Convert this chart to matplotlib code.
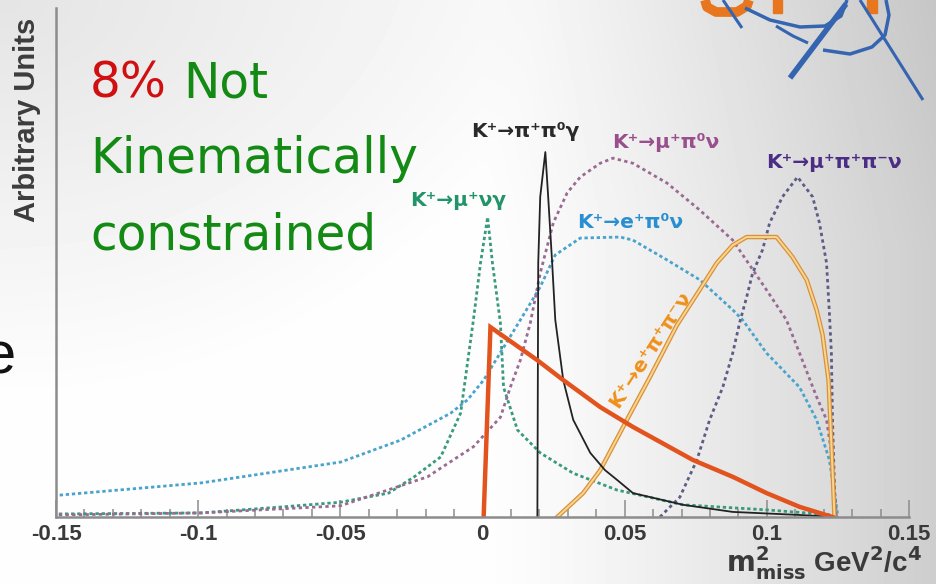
import numpy as np
import matplotlib
matplotlib.use("Agg")
import matplotlib.pyplot as plt
from matplotlib.lines import Line2D
from matplotlib.patches import Rectangle

W, H = 936, 584

# ---------------- data (m2_miss in GeV^2/c^4, arbitrary units) ----------------
mnug_x = [-0.149, -0.099, -0.070, -0.050, -0.033, -0.024, -0.0147, -0.0077, -0.0032,
          -0.0007, 0.0018, 0.0035, 0.0063, 0.0074, 0.0123, 0.0203, 0.0319, 0.0473,
          0.0705, 0.0999, 0.123, 0.1245]
mnug_y = [0.006, 0.008, 0.020, 0.029, 0.047, 0.079, 0.118, 0.204, 0.387,
          0.499, 0.589, 0.499, 0.381, 0.255, 0.171, 0.126, 0.086, 0.053,
          0.024, 0.014, 0.004, 0.0]

epi0nu_x = [-0.1487, -0.0989, -0.0498, -0.0288, -0.0112, -0.0053, 0.0004, 0.0133,
            0.0203, 0.0256, 0.0344, 0.0484, 0.0529, 0.0649, 0.0764, 0.0880, 0.0915,
            0.0999, 0.1115, 0.1175, 0.1220, 0.1245, 0.125]
epi0nu_y = [0.043, 0.067, 0.108, 0.151, 0.204, 0.230, 0.269, 0.387,
            0.452, 0.515, 0.548, 0.550, 0.544, 0.505, 0.466, 0.407, 0.387,
            0.322, 0.255, 0.191, 0.112, 0.020, 0.0]

mupi0nu_x = [-0.149, -0.099, -0.050, -0.0193, -0.0147, -0.0032, 0.0063, 0.0098,
             0.0133, 0.0168, 0.0203, 0.0249, 0.0298, 0.0344, 0.0414, 0.0459, 0.0529,
             0.0649, 0.0764, 0.0880, 0.0999, 0.1069, 0.1115, 0.1175, 0.1210, 0.1231,
             0.1245]
mupi0nu_y = [0.004, 0.008, 0.022, 0.079, 0.096, 0.138, 0.196, 0.255,
             0.308, 0.381, 0.479, 0.578, 0.637, 0.668, 0.695, 0.705, 0.695,
             0.656, 0.603, 0.544, 0.446, 0.387, 0.322, 0.236, 0.191, 0.112,
             0.0]

mupipinu_x = [0.0624, 0.0694, 0.0754, 0.0799, 0.0845, 0.0880, 0.0905, 0.0929, 0.0950,
              0.0985, 0.1010, 0.1055, 0.1108, 0.1161, 0.1185, 0.1210, 0.1220, 0.1227,
              0.1231, 0.1241]
mupipinu_y = [0.0, 0.039, 0.112, 0.191, 0.255, 0.322, 0.383, 0.432, 0.479,
              0.525, 0.578, 0.629, 0.668, 0.629, 0.578, 0.499, 0.401, 0.322,
              0.191, 0.0]

epipinu_x = [0.0263, 0.0354, 0.0414, 0.0508, 0.0589, 0.0684, 0.0775, 0.0824, 0.0880,
             0.0929, 0.1034, 0.1090, 0.1140, 0.1175, 0.1196, 0.1217, 0.1231, 0.1238]
epipinu_y = [0.0, 0.047, 0.092, 0.191, 0.275, 0.377, 0.456, 0.499, 0.534,
             0.550, 0.550, 0.511, 0.466, 0.407, 0.358, 0.269, 0.092, 0.0]

pipigam_x = [0.0193, 0.0196, 0.0203, 0.0221, 0.0231, 0.0245, 0.0256, 0.0284, 0.0319,
             0.0379, 0.0431, 0.0473, 0.0529, 0.0705, 0.0880, 0.1115, 0.1238]
pipigam_y = [0.0, 0.499, 0.629, 0.717, 0.629, 0.499, 0.387, 0.269, 0.191,
             0.126, 0.092, 0.073, 0.047, 0.024, 0.010, 0.004, 0.0]

signal_x = [0.0004, 0.0028, 0.0193, 0.0284, 0.0414, 0.0529, 0.0740, 0.0880, 0.0999,
            0.1115, 0.1231]
signal_y = [0.0, 0.373, 0.308, 0.269, 0.216, 0.177, 0.112, 0.079, 0.047,
            0.020, 0.0]

xticks = [-0.15, -0.1, -0.05, 0, 0.05, 0.1, 0.15]
xticklabels = ["-0.15", "-0.1", "-0.05", "0", "0.05", "0.1", "0.15"]

# ---------------- figure ----------------
fig = plt.figure(figsize=(W / 100, H / 100), dpi=100)

# slide background gradient
bg = fig.add_axes([0, 0, 1, 1], zorder=-10)
yy, xx = np.mgrid[0:H, 0:W].astype(float)
gx = np.clip((xx - 480) / 456, 0, 1)
c = 0.995 - 0.19 * gx ** 1.25
tl = np.clip(1 - np.hypot(xx * 0.9, yy * 1.2) / 480, 0, 1)
c -= 0.10 * tl
c -= 0.03 * np.clip(1 - yy / 250, 0, 1) * np.clip(xx / 936, 0, 1)
bg.imshow(c, cmap="gray", vmin=0, vmax=1, aspect="auto", interpolation="bilinear")
bg.axis("off")

def fx(px):
    return px / W

def fy(py):
    return 1 - py / H

# logo fragments (top right)
for pts, col, lw in [
    ([(705, 0), (707, 7), (716, 12), (737, 12), (747, 6), (749, 0)], "#e8761e", 7),
    ([(723, 0), (742, 28)], "#3565b0", 2.2),
    ([(846, 4), (790, 78)], "#3565b0", 4),
    ([(860, 0), (923, 100)], "#3565b0", 2.2),
    ([(745, 8), (770, 20), (800, 27), (825, 26), (841, 16), (847, 0)], "#3565b0", 2.5),
    ([(776, 26), (793, 36), (808, 43)], "#3565b0", 2.2),
    ([(823, 50), (850, 54), (872, 47), (885, 35), (889, 15), (886, 0)], "#3565b0", 2.5),
]:
    fig.add_artist(Line2D([fx(p[0]) for p in pts], [fy(p[1]) for p in pts],
                          color=col, lw=lw, solid_capstyle="butt",
                          solid_joinstyle="round"))
fig.add_artist(Rectangle((fx(773), fy(13)), 9 / W, 13 / H, color="#e8761e",
                         transform=fig.transFigure))
fig.add_artist(Rectangle((fx(867), fy(13)), 10 / W, 13 / H, color="#e8761e",
                         transform=fig.transFigure))

# slide text fragment at left edge
fig.text(fx(16), fy(373), "e", fontsize=43, family="Liberation Sans",
         ha="right", va="baseline", color="#111111")

# ---------------- axes ----------------
ax = fig.add_axes([fx(56), fy(517), (909 - 56) / W, 509 / H])
ax.patch.set_alpha(0)
ax.set_xlim(-0.15, 0.15)
ax.set_ylim(0, 1)

ax.plot(mnug_x, mnug_y, color="#3a9a7e", lw=2.0, ls=(0, (1.2, 1.0)))
ax.plot(epi0nu_x, epi0nu_y, color="#4aa3cc", lw=2.0, ls=(0, (1.2, 1.0)))
ax.plot(mupi0nu_x, mupi0nu_y, color="#9a6a92", lw=2.0, ls=(0, (1.2, 1.2)))
ax.plot(mupipinu_x, mupipinu_y, color="#5c5c86", lw=2.0, ls=(0, (1.2, 1.2)))
ax.plot(epipinu_x, epipinu_y, color="#d9903a", lw=3.2, solid_joinstyle="round")
ax.plot(epipinu_x, epipinu_y, color="#f9d690", lw=1.4, solid_joinstyle="round")
ax.plot(pipigam_x, pipigam_y, color="#222222", lw=1.3)
ax.plot(signal_x, signal_y, color="#e2531e", lw=3.2, solid_joinstyle="miter")

for s in ["top", "right"]:
    ax.spines[s].set_visible(False)
for s in ["left", "bottom"]:
    ax.spines[s].set_color("#8c8c8c")
    ax.spines[s].set_linewidth(1.8)

ax.set_yticks([])
ax.set_xticks(xticks)
ax.set_xticklabels(xticklabels)
ax.set_xticks(np.arange(-15, 16) / 100, minor=True)
ax.tick_params(axis="x", which="major", direction="in", length=12, width=1.1,
               color="#8c8c8c", pad=5, labelsize=16, labelcolor="#3a3a3a")
ax.tick_params(axis="x", which="minor", direction="in", length=6, width=1.1,
               color="#8c8c8c")
for lab in ax.get_xticklabels():
    lab.set_family("Liberation Sans")
    lab.set_fontweight("bold")

fig.text(fx(27), fy(120), "Arbitrary Units", rotation=90, fontsize=21,
         family="Liberation Sans", fontweight="bold", color="#3c3c3c",
         ha="center", va="center")

fig.text(fx(922), fy(572),
         r"$\mathbf{m^{2}_{miss}}$ GeV$^{\mathbf{2}}$/c$^{\mathbf{4}}$", fontsize=20,
         family="Liberation Sans", fontweight="bold", color="#3a3a3a",
         ha="right", va="baseline")

# big annotation
big = dict(fontsize=35, family="DejaVu Sans", va="baseline", ha="left")
fig.text(fx(90), fy(98), "8%", color="#d01010", **big)
fig.text(fx(183), fy(98), "Not", color="#138a13", **big)
fig.text(fx(90), fy(173), "Kinematically", color="#138a13", **big)
fig.text(fx(90), fy(250), "constrained", color="#138a13", **big)

# decay labels
lab = dict(fontsize=14.5, family=["DejaVu Sans"], ha="center",
           va="center", fontweight="bold")
fig.text(fx(525), fy(131), "K⁺→π⁺π⁰γ", color="#2a2a2a", **lab)
fig.text(fx(666), fy(143), "K⁺→μ⁺π⁰ν", color="#9a4f8c", **lab)
fig.text(fx(834), fy(162), "K⁺→μ⁺π⁺π⁻ν", color="#4b2d86", **lab)
fig.text(fx(458), fy(200), "K⁺→μ⁺νγ", color="#22946a", **lab)
fig.text(fx(630), fy(222), "K⁺→e⁺π⁰ν", color="#2a8fd0", **lab)
fig.text(fx(650), fy(350), "K⁺→e⁺π⁺π⁻ν", color="#f0901a", rotation=57, **lab)

fig.savefig("out.png", dpi=100)
